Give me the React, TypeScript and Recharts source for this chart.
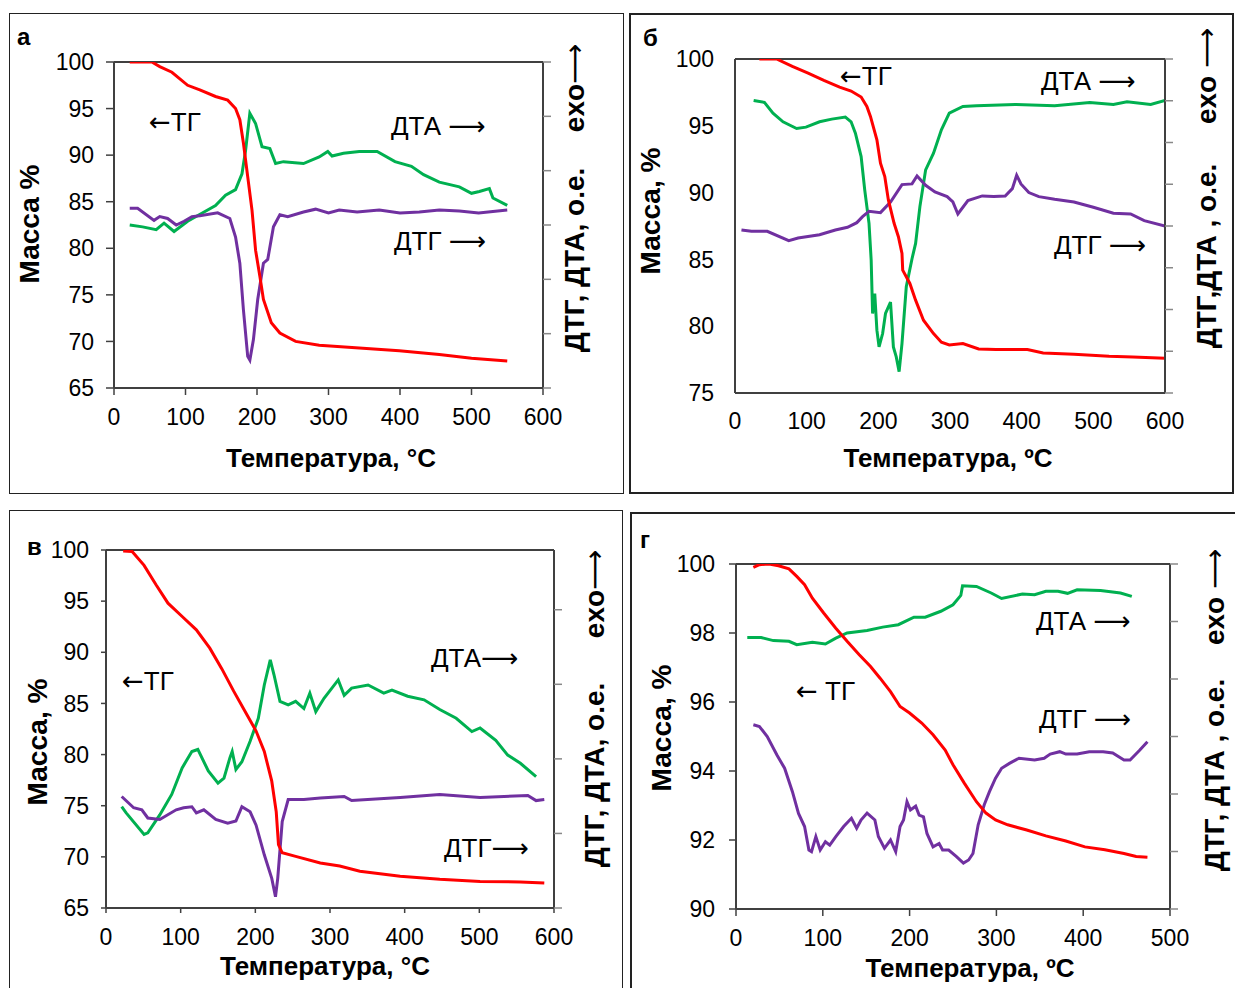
import React from 'react';
import { ComposedChart, Line, XAxis, YAxis, ReferenceLine } from 'recharts';

// [temperature °C, value] pairs
const tgA = [[22,100],[53,100],[64,99.5],[81,98.9],[103,97.5],[120,97],[142,96.3],[159,95.9],[170,95],[176,93.8],[181,91.3],[187,87.7],[193,84.1],[198,79.8],[204,77],[209,74.5],[220,72],[232,70.9],[254,70],[287,69.6],[343,69.3],[399,69],[455,68.6],[500,68.2],[550,67.9]];
const dtaA = [[22,82.5],[40,82.3],[59,82],[70,82.7],[84,81.8],[103,82.9],[126,83.9],[142,84.6],[156,85.7],[170,86.3],[179,88],[184,90.5],[190,94.5],[198,93.4],[207,90.9],[218,90.7],[226,89.1],[237,89.3],[265,89.1],[287,89.8],[299,90.4],[305,89.9],[321,90.2],[343,90.4],[368,90.4],[393,89.3],[416,88.8],[433,87.9],[455,87.1],[483,86.6],[500,85.9],[511,86.1],[525,86.4],[530,85.4],[550,84.6]];
const dtgA = [[22,84.3],[33,84.3],[56,83],[64,83.4],[75,83.2],[87,82.5],[98,82.9],[109,83.4],[120,83.5],[145,83.8],[162,83.2],[170,81.2],[176,78.4],[181,73.4],[187,68.4],[190,68],[195,70.2],[201,74.5],[209,78.4],[215,78.8],[223,82.3],[232,83.6],[243,83.4],[265,83.9],[282,84.2],[300,83.8],[315,84.1],[340,83.9],[371,84.1],[400,83.8],[427,83.9],[455,84.1],[483,84],[510,83.8],[550,84.1]];

const tgB = [[34,100],[58,100],[80,99.45],[102,98.95],[124,98.4],[146,97.9],[162,97.6],[176,97.15],[184,96.45],[189,95.7],[198,93.95],[203,92.2],[209,91.2],[214,89.45],[222,87.7],[228,86.7],[233,85.45],[234,84.2],[244,83.2],[252,81.95],[263,80.45],[277,79.45],[288,78.8],[299,78.6],[318,78.7],[340,78.3],[364,78.25],[408,78.25],[430,78],[473,77.9],[522,77.75],[555,77.7],[600,77.6]];
const dtaB = [[26,96.9],[41,96.75],[53,95.95],[67,95.3],[86,94.8],[99,94.9],[118,95.3],[135,95.5],[154,95.65],[162,95.3],[168,94.45],[176,92.7],[181,90.2],[187,87.7],[190,84.95],[192,80.95],[195,82.45],[198,79.7],[201,78.45],[206,79.45],[210,80.95],[217,81.8],[221,78.45],[225,77.7],[229,76.6],[233,78.7],[239,82.95],[247,85.05],[252,86.2],[258,88.95],[266,91.7],[277,92.95],[288,94.7],[299,95.95],[318,96.45],[337,96.5],[391,96.6],[446,96.5],[495,96.75],[528,96.6],[547,96.8],[580,96.6],[600,96.9]];
const dtgB = [[9,87.2],[23,87.1],[45,87.1],[75,86.4],[88,86.6],[118,86.85],[140,87.2],[157,87.4],[170,87.75],[178,88.2],[187,88.6],[203,88.5],[217,89.3],[233,90.6],[247,90.65],[254,91.25],[266,90.55],[279,90.05],[296,89.7],[304,89.3],[311,88.4],[325,89.4],[345,89.75],[361,89.7],[377,89.75],[387,90.3],[393,91.3],[399,90.65],[410,90],[424,89.7],[446,89.5],[473,89.3],[500,88.9],[528,88.45],[552,88.4],[571,87.9],[600,87.5]];

const tgC = [[23,99.9],[35,99.85],[51,98.5],[67,96.6],[83,94.8],[102,93.5],[121,92.2],[139,90.4],[155,88.4],[171,86.2],[188,84],[201,82.3],[212,80.3],[222,77.4],[228,74.4],[231,71.2],[236,70.4],[254,70.05],[287,69.4],[313,69.1],[340,68.6],[394,68.1],[447,67.8],[501,67.6],[555,67.55],[587,67.45]];
const dtaC = [[21,74.9],[27,74.3],[51,72.2],[56,72.35],[72,74.1],[88,76.1],[102,78.7],[115,80.3],[123,80.5],[137,78.4],[150,77.2],[158,77.7],[166,79.7],[169,80.3],[174,78.55],[182,79.3],[193,81.3],[204,83.55],[212,86.8],[220,89.25],[225,87.8],[233,85.2],[244,84.85],[254,85.2],[265,84.5],[273,86],[281,84.2],[292,85.5],[311,87.3],[319,85.8],[329,86.5],[351,86.8],[372,86],[383,86.3],[404,85.7],[426,85.35],[447,84.4],[469,83.55],[490,82.25],[501,82.6],[522,81.4],[538,79.95],[555,79.15],[576,77.85]];
const dtgC = [[21,75.9],[37,74.8],[48,74.6],[56,73.8],[72,73.65],[94,74.6],[104,74.8],[115,74.9],[121,74.3],[131,74.6],[147,73.65],[163,73.3],[174,73.5],[182,74.9],[193,74.4],[201,73.1],[212,70.2],[222,67.9],[227,66.1],[230,67.9],[236,73.45],[244,75.6],[265,75.6],[287,75.75],[319,75.9],[329,75.5],[394,75.8],[447,76.1],[501,75.8],[565,76],[576,75.5],[587,75.6]];

const tgD = [[20,99.9],[27,99.98],[38,100],[49,99.95],[61,99.86],[70,99.64],[79,99.4],[88,99.01],[101,98.58],[115,98.14],[128,97.76],[142,97.37],[155,97.03],[166,96.69],[178,96.3],[189,95.87],[200,95.68],[214,95.39],[227,95.05],[241,94.61],[250,94.18],[263,93.65],[277,93.11],[288,92.78],[299,92.58],[313,92.44],[335,92.29],[357,92.12],[380,91.97],[402,91.8],[425,91.72],[447,91.61],[461,91.52],[474,91.5]];
const dtaD = [[13,97.87],[29,97.87],[43,97.78],[61,97.76],[70,97.66],[88,97.73],[103,97.68],[115,97.85],[128,98],[151,98.07],[169,98.17],[187,98.24],[205,98.46],[218,98.46],[236,98.63],[250,98.82],[259,99.09],[261,99.37],[277,99.35],[294,99.16],[306,99],[330,99.13],[344,99.11],[357,99.21],[371,99.21],[382,99.15],[393,99.25],[420,99.23],[443,99.16],[456,99.06]];
const dtgD = [[20,95.34],[27,95.29],[36,95],[47,94.47],[56,94.08],[65,93.4],[72,92.77],[79,92.39],[84,91.71],[87,91.66],[92,92.1],[97,91.71],[103,91.95],[108,91.85],[115,92.1],[124,92.39],[133,92.63],[139,92.34],[144,92.58],[151,92.78],[160,92.58],[164,92.1],[171,91.76],[178,92],[184,91.66],[189,92.39],[193,92.58],[197,93.11],[201,92.87],[207,92.98],[211,92.72],[216,92.67],[220,92.19],[227,91.8],[234,91.9],[238,91.71],[245,91.71],[254,91.52],[262,91.33],[268,91.42],[273,91.61],[279,92.44],[286,93.02],[292,93.4],[299,93.79],[306,94.08],[315,94.22],[326,94.37],[344,94.32],[355,94.37],[362,94.49],[373,94.56],[380,94.49],[393,94.49],[407,94.56],[423,94.56],[434,94.52],[447,94.32],[454,94.32],[465,94.6],[474,94.85]];

const ticks600 = [0, 100, 200, 300, 400, 500, 600];
const ticks500 = [0, 100, 200, 300, 400, 500];
const massTicksA = [65, 70, 75, 80, 85, 90, 95, 100];
const massTicksB = [75, 80, 85, 90, 95, 100];
const massTicksD = [90, 92, 94, 96, 98, 100];

const pts = (a: number[][]) => a.map(([t, v]) => ({ t, v }));

const FONT = 'Arial, "Liberation Sans", sans-serif';
const ARROW_FONT = '"DejaVu Sans", sans-serif';
const RED = '#ff0000';
const GREEN = '#00b050';
const PURPLE = '#7030a0';
const AXIS = '#404040';

type Rect = { l: number; t: number; r: number; b: number };

interface PanelProps {
    box: Rect;
    plot: Rect;
    border: number;
    xTicks: number[];
    yTicks: number[];
    rightTicks: number[];
    tg: number[][];
    dta: number[][];
    dtg: number[][];
    yTickSize: number;
    yTickMargin: number;
    yTickLine: boolean;
    xTickSize: number;
    xTickMargin: number;
    xTickLine: boolean;
}

const Panel: React.FC<PanelProps> = (p) => {
    const w = p.box.r - p.box.l;
    const h = p.box.b - p.box.t;
    const yW = 60, xH = 40, rW = 20;
    const margin = {
        left: p.plot.l - p.box.l - yW,
        right: p.box.r - p.plot.r - rW,
        top: p.plot.t - p.box.t,
        bottom: p.box.b - p.plot.b - xH,
    };
    const yDomain = [p.yTicks[0], p.yTicks[p.yTicks.length - 1]];
    const xDomain = [p.xTicks[0], p.xTicks[p.xTicks.length - 1]];
    const tickStyle = { fontSize: 23, fill: '#000', fontFamily: FONT };
    return (
        <>
            <div style={{ position: 'absolute', left: p.box.l, top: p.box.t, width: w, height: h, border: `${p.border}px solid #222`, boxSizing: 'border-box' }} />
            <div style={{ position: 'absolute', left: p.box.l, top: p.box.t }}>
                <ComposedChart width={w} height={h} margin={margin}>
                    <XAxis type="number" dataKey="t" domain={xDomain} ticks={p.xTicks} allowDataOverflow
                        height={xH} tick={tickStyle} tickSize={p.xTickSize} tickMargin={p.xTickMargin}
                        tickLine={p.xTickLine ? { stroke: AXIS, strokeWidth: 1.5 } : false}
                        axisLine={{ stroke: AXIS, strokeWidth: 2 }} />
                    <YAxis yAxisId="left" type="number" domain={yDomain} ticks={p.yTicks} allowDataOverflow
                        width={yW} tick={tickStyle} tickSize={p.yTickSize} tickMargin={p.yTickMargin}
                        tickLine={p.yTickLine ? { stroke: AXIS, strokeWidth: 1.5 } : false}
                        axisLine={{ stroke: AXIS, strokeWidth: 2 }} />
                    <YAxis yAxisId="right" orientation="right" type="number" domain={yDomain} ticks={p.rightTicks} allowDataOverflow
                        width={rW} tickSize={8} tickFormatter={() => ''}
                        tickLine={{ stroke: '#888', strokeWidth: 1.5 }}
                        axisLine={{ stroke: AXIS, strokeWidth: 2 }} />
                    <ReferenceLine yAxisId="left" y={yDomain[1]} stroke={AXIS} strokeWidth={2} />
                    <Line yAxisId="right" data={pts(p.dta)} dataKey="v" type="linear" stroke={GREEN} strokeWidth={3} dot={false} isAnimationActive={false} />
                    <Line yAxisId="right" data={pts(p.dtg)} dataKey="v" type="linear" stroke={PURPLE} strokeWidth={3} dot={false} isAnimationActive={false} />
                    <Line yAxisId="left" data={pts(p.tg)} dataKey="v" type="linear" stroke={RED} strokeWidth={3} dot={false} isAnimationActive={false} />
                </ComposedChart>
            </div>
        </>
    );
};

// evenly spaced unlabeled ticks on the right axis
const rightTicks = (lo: number, step: number, n: number) => Array.from({ length: n }, (_, i) => lo + step * i);

const Txt: React.FC<{ x: number; y: number; size: number; bold?: boolean; rotate?: boolean; center?: boolean; children: React.ReactNode }> =
    ({ x, y, size, bold, rotate, center, children }) => (
        <div style={{
            position: 'absolute', left: x, top: y, fontFamily: FONT, fontSize: size, fontWeight: bold ? 'bold' : 'normal',
            lineHeight: 1, whiteSpace: 'nowrap', color: '#000',
            transform: rotate ? 'translate(-50%, -50%) rotate(-90deg)' : center ? 'translate(-50%, -50%)' : 'translateY(-50%)',
        }}>{children}</div>
    );

const Arr: React.FC<{ c: string }> = ({ c }) => (
    <span style={{ fontFamily: ARROW_FONT, fontWeight: 'normal' }}>{c}</span>
);

export default function App() {
    return (
        <div style={{ position: 'absolute', left: 0, top: 0, width: 1235, height: 988, overflow: 'hidden', background: '#fff' }}>
            <Panel box={{ l: 9, t: 13, r: 624, b: 494 }} plot={{ l: 114, t: 62, r: 543, b: 388 }} border={1}
                xTicks={ticks600} yTicks={massTicksA} rightTicks={rightTicks(65, 35 / 6, 7)}
                tg={tgA} dta={dtaA} dtg={dtgA}
                yTickSize={8} yTickMargin={12} yTickLine xTickSize={7} xTickMargin={14} xTickLine />
            <Panel box={{ l: 629, t: 13, r: 1234, b: 494 }} plot={{ l: 735, t: 59, r: 1165, b: 393 }} border={2}
                xTicks={ticks600} yTicks={massTicksB} rightTicks={rightTicks(75, 25 / 8, 9)}
                tg={tgB} dta={dtaB} dtg={dtgB}
                yTickSize={8} yTickMargin={13} yTickLine={false} xTickSize={7} xTickMargin={13} xTickLine={false} />
            <Panel box={{ l: 9, t: 510, r: 623, b: 1000 }} plot={{ l: 106, t: 550, r: 554, b: 908 }} border={1}
                xTicks={ticks600} yTicks={massTicksA} rightTicks={rightTicks(65, 7.29, 5)}
                tg={tgC} dta={dtaC} dtg={dtgC}
                yTickSize={5} yTickMargin={12} yTickLine xTickSize={5} xTickMargin={16} xTickLine />
            <Panel box={{ l: 630, t: 512, r: 1240, b: 1000 }} plot={{ l: 736, t: 564, r: 1170, b: 909 }} border={2}
                xTicks={ticks500} yTicks={massTicksD} rightTicks={rightTicks(90, 10 / 6, 7)}
                tg={tgD} dta={dtaD} dtg={dtgD}
                yTickSize={7} yTickMargin={14} yTickLine xTickSize={7} xTickMargin={14} xTickLine />

            {/* panel а */}
            <Txt x={17} y={37} size={24} bold>а</Txt>
            <Txt x={30} y={224} size={28} bold rotate>Масса %</Txt>
            <Txt x={331} y={458} size={26} bold center>Температура, °C</Txt>
            <Txt x={575} y={88} size={28} bold rotate>exo<Arr c="⟶" /></Txt>
            <Txt x={575} y={260} size={28} bold rotate>ДТГ, ДТА, о.е.</Txt>
            <Txt x={149} y={122} size={26}><Arr c="←" />ТГ</Txt>
            <Txt x={391} y={126} size={26}>ДТА <Arr c="⟶" /></Txt>
            <Txt x={394} y={241} size={26}>ДТГ <Arr c="⟶" /></Txt>

            {/* panel б */}
            <Txt x={643} y={38} size={24} bold>б</Txt>
            <Txt x={651} y={211} size={28} bold rotate>Масса, %</Txt>
            <Txt x={948} y={458} size={26} bold center>Температура, ºC</Txt>
            <Txt x={1207} y={76} size={28} bold rotate>exo <Arr c="⟶" /></Txt>
            <Txt x={1207} y={256} size={28} bold rotate>ДТГ,ДТА , о.е.</Txt>
            <Txt x={840} y={76} size={26}><Arr c="←" />ТГ</Txt>
            <Txt x={1041} y={81} size={26}>ДТА <Arr c="⟶" /></Txt>
            <Txt x={1054} y={245} size={26}>ДТГ <Arr c="⟶" /></Txt>

            {/* panel в */}
            <Txt x={27} y={547} size={24} bold>в</Txt>
            <Txt x={38} y={742} size={28} bold rotate>Масса, %</Txt>
            <Txt x={325} y={966} size={26} bold center>Температура, °C</Txt>
            <Txt x={595} y={594} size={28} bold rotate>exo<Arr c="⟶" /></Txt>
            <Txt x={595} y={775} size={28} bold rotate>ДТГ, ДТА, о.е.</Txt>
            <Txt x={122} y={681} size={26}><Arr c="←" />ТГ</Txt>
            <Txt x={431} y={658} size={26}>ДТА<Arr c="⟶" /></Txt>
            <Txt x={444} y={848} size={26}>ДТГ<Arr c="⟶" /></Txt>

            {/* panel г */}
            <Txt x={640} y={540} size={24} bold>г</Txt>
            <Txt x={662} y={728} size={28} bold rotate>Масса, %</Txt>
            <Txt x={970} y={968} size={26} bold center>Температура, ºC</Txt>
            <Txt x={1215} y={597} size={28} bold rotate>exo <Arr c="⟶" /></Txt>
            <Txt x={1215} y={775} size={28} bold rotate>ДТГ, ДТА , о.е.</Txt>
            <Txt x={796} y={691} size={26}><Arr c="←" /> ТГ</Txt>
            <Txt x={1036} y={621} size={26}>ДТА  <Arr c="⟶" /></Txt>
            <Txt x={1039} y={719} size={26}>ДТГ  <Arr c="⟶" /></Txt>
        </div>
    );
}
